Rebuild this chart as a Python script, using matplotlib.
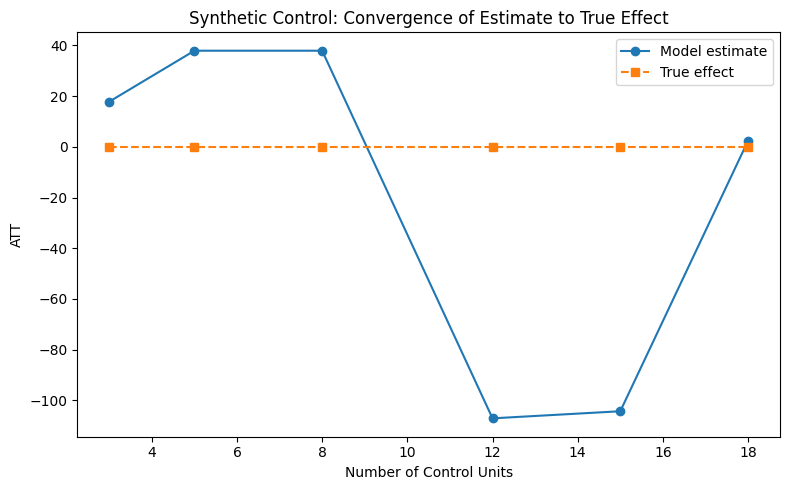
import matplotlib
matplotlib.use("Agg")
import matplotlib.pyplot as plt

# data
n_controls = [3, 5, 8, 12, 15, 18]
att_estimate = [17.8, 37.9, 37.9, -107.1, -104.3, 2.4]
true_effect = [0, 0, 0, 0, 0, 0]

fig, ax = plt.subplots(figsize=(8, 5), dpi=100)
ax.plot(n_controls, att_estimate, marker="o", label="Model estimate")
ax.plot(n_controls, true_effect, marker="s", linestyle="--", label="True effect")
ax.set_xlabel("Number of Control Units")
ax.set_ylabel("ATT")
ax.set_title("Synthetic Control: Convergence of Estimate to True Effect")
ax.legend()
fig.tight_layout()
fig.savefig("out.png", bbox_inches="tight")
